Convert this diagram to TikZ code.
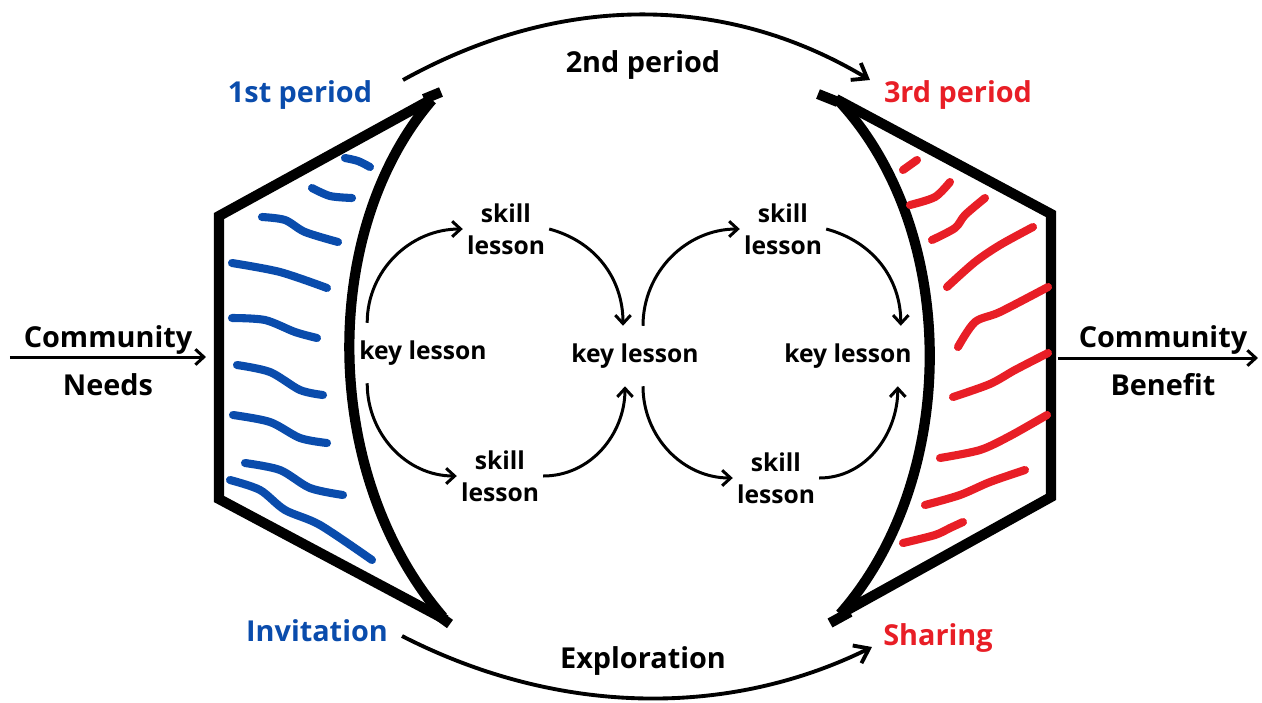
\documentclass[tikz,border=0pt]{standalone}
\usepackage{fontspec}
\setmainfont{Open Sans}
\usepackage{xcolor}
\definecolor{penblue}{RGB}{10,76,172}
\definecolor{penred}{RGB}{232,30,38}
\usetikzlibrary{calc,arrows.meta}
\tikzset{>={Straight Barb[length=2.4pt,width=4.4pt]}}
\tikzset{
  wall/.style={line width=2.9pt},
  pen/.style={line width=2.3pt, line cap=round, line join=round},
  lbl/.style={font=\bfseries\fontsize{8.2}{9.1}\selectfont, inner sep=1pt, align=center},
  lesson/.style={lbl, font=\bfseries\fontsize{7}{9.1}\selectfont},
  keylesson/.style={lesson, inner ysep=4.9pt},
  flow/.style={->, line width=0.85pt},
  bigflow/.style={-{Straight Barb[length=3.8pt,width=5.6pt]}, line width=1.1pt}
}

\begin{document}
\begin{tikzpicture}[x=0.01cm, y=-0.01cm]
  \useasboundingbox (0,0) rectangle (1262,702);
  % left wing
  \draw[wall] (432,99) -- (219,216) -- (219,499) -- (446,620);
  \draw[wall] (432,100) .. controls (320,230) and (320,474) .. (443,617);
  \draw[wall] (424,99) -- (441,92);
  \draw[wall] (432,611) -- (450,624);
  % right wing
  \draw[wall] (836,99) -- (1051,214) -- (1051,497) -- (842,613);
  \draw[wall] (838,100) .. controls (960,230) and (960,478) .. (840,614);
  \draw[wall] (818,94) -- (838,102);
  \draw[wall] (830,623) -- (850,612);
  % blue strokes
  \foreach \pts in {
      {(345,158) (358,161) (370,167)},
      {(312,188) (330,196) (352,198)},
      {(262,217) (285,220) (305,232) (338,242)},
      {(232,263) (280,272) (327,288)},
      {(232,318) (265,320) (295,332) (317,338)},
      {(237,365) (270,372) (300,390) (323,395)},
      {(233,415) (270,422) (300,438) (327,443)},
      {(245,463) (280,470) (310,488) (343,495)},
      {(230,480) (260,490) (285,510) (320,525) (372,560)}}
    \draw[pen, penblue] plot[smooth] coordinates \pts;
  % red strokes
  \foreach \pts in {
      {(903,170) (917,160)},
      {(910,205) (935,197) (950,182)},
      {(932,240) (955,228) (965,215) (985,198)},
      {(947,287) (975,262) (1000,245) (1033,227)},
      {(958,347) (975,322) (1000,312) (1048,287)},
      {(953,397) (990,384) (1015,370) (1048,353)},
      {(940,458) (980,450) (1010,436) (1047,415)},
      {(925,505) (960,495) (990,482) (1025,470)},
      {(903,543) (935,535) (950,528) (963,522)}}
    \draw[pen, penred] plot[smooth] coordinates \pts;
  % period labels
  \node[lbl, text=penblue] (first) at (300,95) {1st period};
  \node[lbl] (second) at (643,65) {2nd period};
  \node[lbl, text=penred] (third) at (958,95) {3rd period};
  \node[lbl, text=penblue] (invite) at (317,631) {Invitation};
  \node[lbl] (explore) at (643,661) {Exploration};
  \node[lbl, text=penred] (share) at (938,638) {Sharing};
  \coordinate (topL) at (403,80);
  \coordinate (topR) at (870,80);
  \coordinate (botL) at (402,636);
  \coordinate (botR) at (872,647);
  \draw[bigflow] (topL) .. controls (560,-7) and (725,-7) .. (topR);
  \draw[bigflow] (botL) .. controls (560,717) and (730,717) .. (botR);
  % in and out
  \node[lbl] (needs) at (108,361) {Community\\[4.6pt]Needs};
  \node[lbl] (benefit) at (1163,361) {Community\\[4.6pt]Benefit};
  \coordinate (inL) at (10,357);
  \coordinate (inR) at (206,357);
  \coordinate (outL) at (1058,358);
  \coordinate (outR) at (1258,358);
  \draw[flow] (inL) -- (inR);
  \draw[flow] (outL) -- (outR);
  % lessons
  \node[keylesson] (kl1) at (423,353) {key lesson};
  \node[lesson] (sk1) at (506,229) {skill\\lesson};
  \node[lesson] (sk2) at (500,476) {skill\\lesson};
  \node[keylesson] (kl2) at (635,356) {key lesson};
  \node[lesson] (sk3) at (783,229) {skill\\lesson};
  \node[lesson] (sk4) at (776,478) {skill\\lesson};
  \node[keylesson] (kl3) at (848,356) {key lesson};
  \draw[flow] ($(kl1.north west)+(12,0)$) to[out=90, in=180] (sk1.west);
  \draw[flow] ($(kl1.south west)+(12,0)$) to[out=-90, in=180] (sk2.west);
  \draw[flow] (sk1.east) to[out=-15, in=90] ($(kl2.north)+(-12,0)$);
  \draw[flow] (sk2.east) to[out=0, in=-90] ($(kl2.south)+(-10,0)$);
  \draw[flow] ($(kl2.north)+(8,0)$) to[out=90, in=180] (sk3.west);
  \draw[flow] ($(kl2.south)+(8,0)$) to[out=-90, in=180] (sk4.west);
  \draw[flow] (sk3.east) to[out=-15, in=90] ($(kl3.north east)+(-15,0)$);
  \draw[flow] (sk4.east) to[out=0, in=-90] ($(kl3.south east)+(-18,0)$);
\end{tikzpicture}
\end{document}
